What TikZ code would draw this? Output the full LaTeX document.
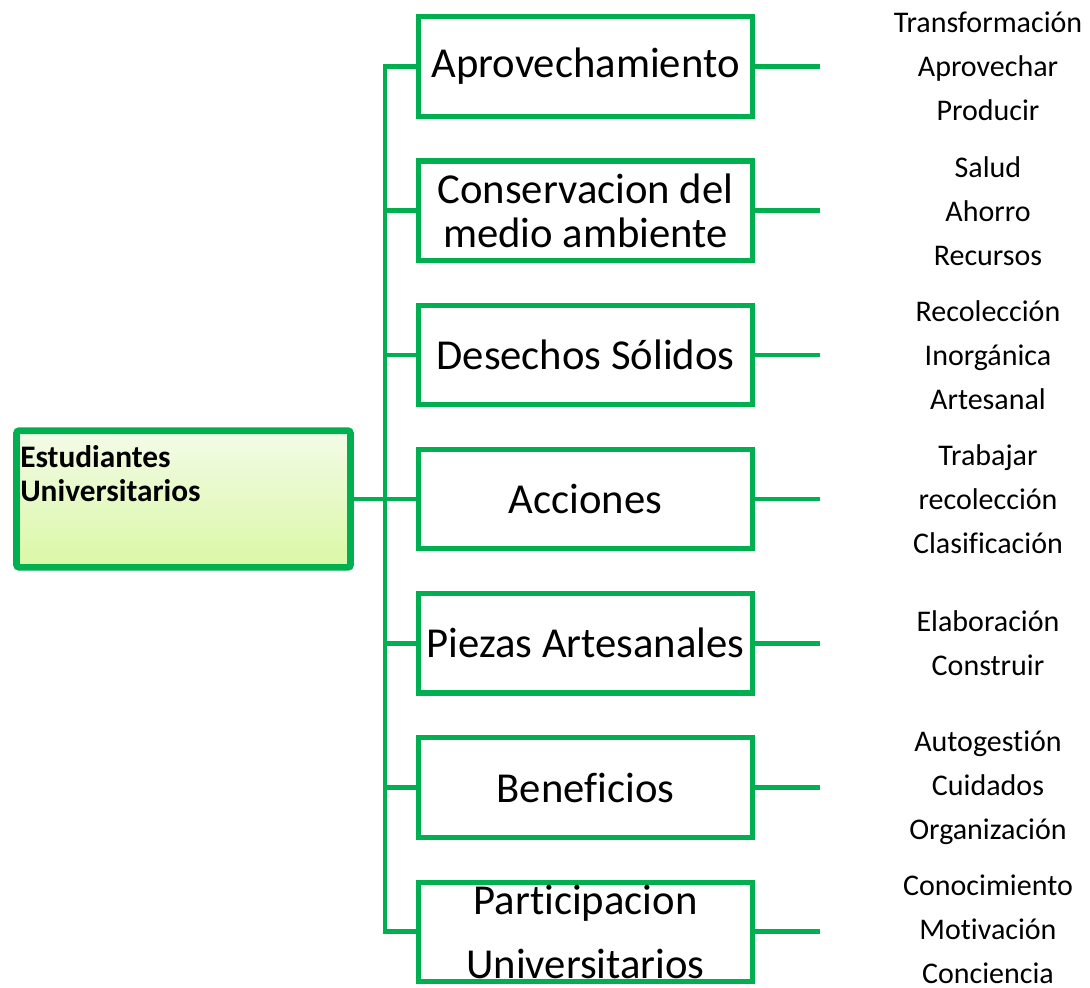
\documentclass[tikz,border=0pt]{standalone}
\usepackage{fontspec}
\setmainfont{Carlito}[Ligatures=NoCommon]
\usetikzlibrary{shadows}
\definecolor{grn}{HTML}{00B050}
\begin{document}
\begin{tikzpicture}[x=0.75pt,y=-0.75pt,
  conn/.style={draw=grn, line width=3.4pt},
  midbox/.style={draw=grn, line width=3.8pt, fill=white, minimum width=250.5pt, minimum height=74.5pt, inner sep=0pt, align=center, font=\fontsize{32}{34}\selectfont},
  leaf/.style={inner sep=0pt, align=center, font=\fontsize{22.5}{33}\selectfont},
]
\useasboundingbox (0,0) rectangle (1090,988);
% root
\node[draw=grn, line width=5pt, rounded corners=2pt, top color={rgb,255:red,243;green,251;blue,232}, bottom color={rgb,255:red,218;green,248;blue,164}, drop shadow={shadow xshift=2pt, shadow yshift=-2pt, opacity=0.35}, minimum width=250.5pt, minimum height=102.5pt, inner sep=0pt] (root) at (183.5,499) {};
\node[anchor=north west, inner sep=0pt, align=left, font=\bfseries\fontsize{23.5}{25.5}\selectfont] (roottext) at (20,445) {Estudiantes\\Universitarios};
% boxes
\foreach \i/\t in {1/Aprovechamiento,2/{Conservacion del\\[-1pt]medio ambiente},3/Desechos Sólidos,4/Acciones,5/Piezas Artesanales,6/Beneficios,7/{Participacion\\[14pt]Universitarios}}{
  \pgfmathsetmacro{\yy}{66.5+144.2*(\i-1)}
  \node[midbox] (b\i) at (585.5,\yy) {\t};
  \coordinate (t\i) at (385,\yy);
  \coordinate (e\i) at (820,\yy);
  \draw[conn] (t\i) -- (b\i.west);
  \draw[conn] (b\i.east) -- (e\i);
}
\draw[conn, line cap=rect] (t1) -- (t7);
\draw[conn] (root.east) -- (root.east -| t1);
% leaves
\node[leaf] (l1) at (988,66.5) {Transformación\\Aprovechar\\Producir};
\node[leaf] (l2) at (988,210.7) {Salud\\Ahorro\\Recursos};
\node[leaf] (l3) at (988,354.9) {Recolección\\Inorgánica\\Artesanal};
\node[leaf] (l4) at (988,499.1) {Trabajar\\recolección\\Clasificación};
\node[leaf] (l5) at (988,643.3) {Elaboración\\Construir};
\node[leaf] (l6) at (988,787.5) {Autogestión\\Cuidados\\Organización};
\node[leaf] (l7) at (988,929) {Conocimiento\\Motivación\\Conciencia};
\end{tikzpicture}
\end{document}
